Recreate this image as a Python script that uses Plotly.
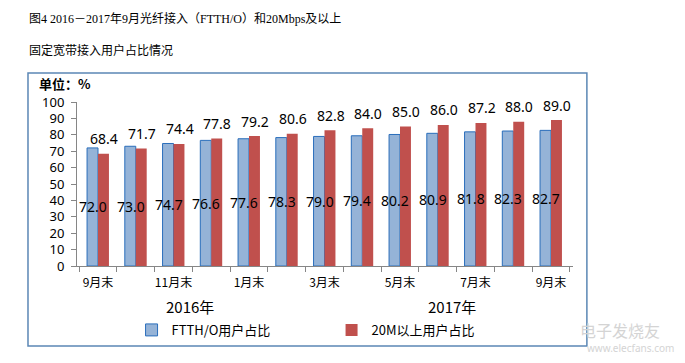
import plotly.graph_objects as go

categories = ["2016-09", "2016-10", "2016-11", "2016-12", "2017-01", "2017-02", "2017-03",
              "2017-04", "2017-05", "2017-06", "2017-07", "2017-08", "2017-09"]
tick_labels = ["9月末", "", "11月末", "", "1月末", "", "3月末", "", "5月末", "", "7月末", "", "9月末"]
ftth = [72.0, 73.0, 74.7, 76.6, 77.6, 78.3, 79.0, 79.4, 80.2, 80.9, 81.8, 82.3, 82.7]
m20 = [68.4, 71.7, 74.4, 77.8, 79.2, 80.6, 82.8, 84.0, 85.0, 86.0, 87.2, 88.0, 89.0]
series_names = ["FTTH/O用户占比", "20M以上用户占比"]
year_labels = ["2016年", "2017年"]

CJK = "Noto Sans CJK SC, Noto Sans, sans-serif"
NUM = "Noto Sans, Open Sans, sans-serif"
SERIF = "Liberation Serif, Noto Sans CJK SC, serif"

fig = go.Figure()
fig.add_trace(go.Bar(x=categories, y=ftth, name=series_names[0],
                     marker=dict(color="#95b3d7", line=dict(color="#2a6ebb", width=1))))
fig.add_trace(go.Bar(x=categories, y=m20, name=series_names[1],
                     marker=dict(color="#c0504d", line=dict(color="#c0504d", width=0))))

annotations = []
for c, v in zip(categories, ftth):
    annotations.append(dict(x=c, y=v / 2, xref="x", yref="y", text=f"{v:.1f}", showarrow=False,
                            xshift=-5, font=dict(size=14, color="#000", family=NUM)))
for c, v in zip(categories, m20):
    annotations.append(dict(x=c, y=v, xref="x", yref="y", text=f"{v:.1f}", showarrow=False,
                            xshift=6, yshift=15, font=dict(size=14, color="#000", family=NUM)))

# titles
annotations.append(dict(x=-0.101, y=1.512, xref="paper", yref="paper", xanchor="left", yanchor="middle",
                        text="图4 2016－2017年9月光纤接入（FTTH/O）和20Mbps及以上", showarrow=False,
                        font=dict(size=12, color="#000", family=SERIF)))
annotations.append(dict(x=-0.101, y=1.317, xref="paper", yref="paper", xanchor="left", yanchor="middle",
                        text="固定宽带接入用户占比情况", showarrow=False,
                        font=dict(size=12, color="#000", family=SERIF)))
annotations.append(dict(x=-0.081, y=1.115, xref="paper", yref="paper", xanchor="left", yanchor="middle",
                        text="<b>单位：%</b>", showarrow=False,
                        font=dict(size=13, color="#000", family=CJK)))
annotations.append(dict(x=0.228, y=-0.244, xref="paper", yref="paper", xanchor="center", yanchor="middle",
                        text=year_labels[0], showarrow=False, font=dict(size=15, color="#000", family=CJK)))
annotations.append(dict(x=0.756, y=-0.244, xref="paper", yref="paper", xanchor="center", yanchor="middle",
                        text=year_labels[1], showarrow=False, font=dict(size=15, color="#000", family=CJK)))
# watermark
annotations.append(dict(x=1.01, y=-0.39, xref="paper", yref="paper", xanchor="left", yanchor="middle",
                        text="电子发烧友", showarrow=False, font=dict(size=16, color="#d4d4d4", family=CJK)))
annotations.append(dict(x=1.025, y=-0.50, xref="paper", yref="paper", xanchor="left", yanchor="middle",
                        text="www.elecfans.com", showarrow=False, font=dict(size=10, color="#d4d4d4", family=NUM)))

fig.update_layout(
    width=669, height=347,
    margin=dict(l=69, r=104, t=94, b=89, autoexpand=False),
    paper_bgcolor="#ffffff", plot_bgcolor="#ffffff",
    barmode="group", bargap=0.42, bargroupgap=0,
    showlegend=True,
    legend=dict(orientation="h", x=0.11, y=-0.39, xanchor="left", yanchor="middle",
                font=dict(size=13, color="#000", family=CJK), entrywidth=155, itemwidth=30,
                bgcolor="rgba(0,0,0,0)"),
    annotations=annotations,
    shapes=[dict(type="rect", xref="paper", yref="paper", x0=-0.0988, x1=1.028, y0=-0.488, y1=1.177,
                 line=dict(color="#5b87b5", width=1.5), fillcolor="rgba(0,0,0,0)", layer="below")],
    xaxis=dict(type="category", tickmode="array", tickvals=categories, ticktext=tick_labels,
               tickson="boundaries", ticks="outside", ticklen=5, tickcolor="#868686", tickangle=0,
               automargin=False, showline=True, linecolor="#868686", linewidth=1, showgrid=False,
               tickfont=dict(size=12, color="#000", family=CJK), ticklabelstandoff=6),
    yaxis=dict(range=[0, 100], dtick=10, ticks="outside", ticklen=5, tickcolor="#868686",
               automargin=False, showline=True, linecolor="#868686", linewidth=1, showgrid=False,
               zeroline=False, tickfont=dict(size=13, color="#000", family=NUM), ticklabelstandoff=4),
)

fig.write_html("out.html")
